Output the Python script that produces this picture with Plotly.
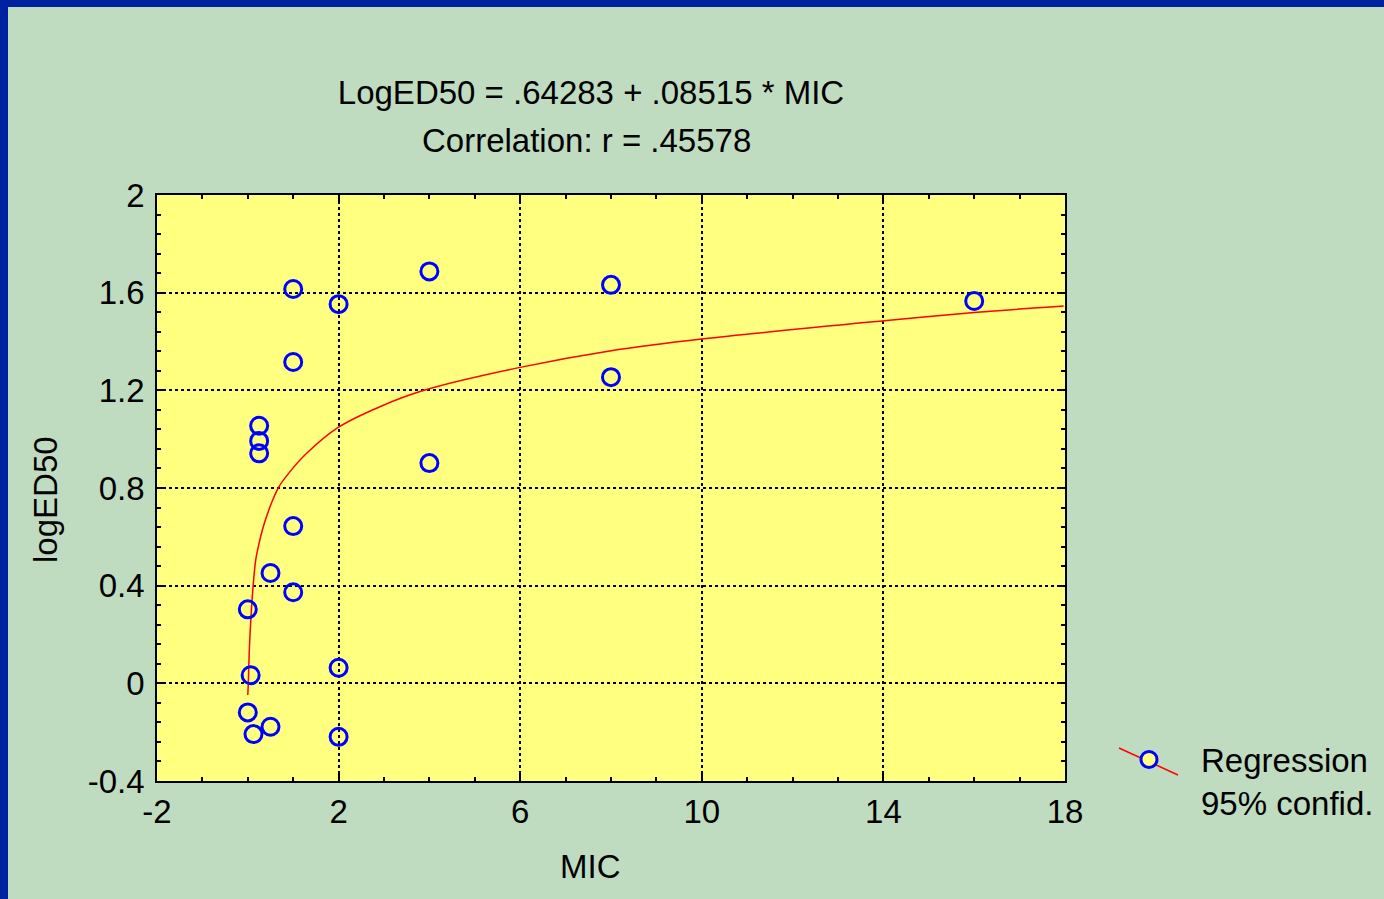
import plotly.graph_objects as go

# ---- data ----
mic = [1, 2, 4, 8, 16, 1, 8, 0.25, 0.25, 0.25, 4, 1, 0.5, 1, 0, 0.0625, 2, 0, 0.125, 0.5, 2]
log_ed50 = [1.615, 1.553, 1.687, 1.632, 1.566, 1.316, 1.254, 1.055, 0.993, 0.942, 0.902,
            0.644, 0.452, 0.373, 0.303, 0.033, 0.064, -0.119, -0.208, -0.178, -0.219]

# regression curve, sampled along the drawn red line
fit_x = [0.0, 0.011, 0.033, 0.07, 0.122, 0.174, 0.231, 0.341, 0.489, 0.672, 0.93, 1.297,
         1.99, 2.91, 3.9, 6.0, 7.97, 10.04, 14.02, 16.06, 17.97]
fit_y = [-0.048, 0.0, 0.136, 0.273, 0.41, 0.505, 0.559, 0.641, 0.723, 0.801, 0.867, 0.942,
         1.048, 1.133, 1.201, 1.294, 1.361, 1.411, 1.485, 1.52, 1.545]

x_ticks = [-2, 2, 6, 10, 14, 18]
x_tick_text = ["-2", "2", "6", "10", "14", "18"]
y_ticks = [-0.4, 0, 0.4, 0.8, 1.2, 1.6, 2]
y_tick_text = ["-0.4", "0", "0.4", "0.8", "1.2", "1.6", "2"]

title_line1 = "LogED50 = .64283 + .08515 * MIC"
title_line2 = "Correlation: r = .45578"
x_title = "MIC"
y_title = "logED50"
legend_name = "Regression<br>95% confid."

# ---- styles ----
GREEN = "#C0DCC0"
YELLOW = "#FFFF80"
BORDER = "#0022A0"
FONT = "Liberation Sans, Arial, sans-serif"
FS = 33
W, H = 1384, 899
L, R, T, B = 157, 319, 195, 118
PW, PH = W - L - R, H - T - B


def px(x):
    return (x - L) / PW


def py(y):
    return (H - B - y) / PH


fig = go.Figure()

fig.add_trace(go.Scatter(
    x=fit_x, y=fit_y, mode="lines",
    line=dict(color="#FF0000", width=1.5, shape="spline", smoothing=0.8),
    showlegend=False, hoverinfo="skip"))

fig.add_trace(go.Scatter(
    x=mic, y=log_ed50, mode="markers",
    marker=dict(symbol="circle-open", size=17, color="#0000FF", line=dict(width=3, color="#0000FF")),
    showlegend=False))

# legend entry (filled marker; the diagonal red stroke is drawn as a shape behind it)
fig.add_trace(go.Scatter(
    x=[None], y=[None], mode="markers", name=legend_name,
    marker=dict(symbol="circle", size=17, color=YELLOW, line=dict(width=3, color="#0000FF"))))

axis_common = dict(
    showgrid=True, gridcolor="black", gridwidth=2, griddash="dot",
    showline=True, linecolor="black", linewidth=1.5, mirror="allticks",
    ticks="inside", ticklen=7, tickwidth=1.5, tickcolor="black",
    zeroline=False, tickfont=dict(family=FONT, size=FS, color="black"),
)

fig.update_xaxes(
    range=[-2, 18], tickmode="array", tickvals=x_ticks, ticktext=x_tick_text,
    minor=dict(tickmode="linear", tick0=-2, dtick=1, ticks="inside", ticklen=4,
               tickcolor="black", showgrid=False),
    ticklabelstandoff=1,
    **axis_common)

fig.update_yaxes(
    range=[-0.4, 2], tickmode="array", tickvals=y_ticks, ticktext=y_tick_text,
    minor=dict(tickmode="linear", tick0=-0.4, dtick=0.08, ticks="inside", ticklen=4,
               tickcolor="black", showgrid=False),
    ticklabelstandoff=4,
    **axis_common)

txt = dict(family=FONT, size=FS, color="black")

fig.update_layout(
    width=W, height=H,
    margin=dict(l=L, r=R, t=T, b=B, autoexpand=False),
    paper_bgcolor=GREEN, plot_bgcolor=YELLOW,
    font=txt,
    title=dict(text=title_line1, x=px(591), xref="paper", xanchor="center",
               y=1 - 92 / H, yref="container", yanchor="middle", font=txt),
    annotations=[
        dict(text=title_line2, x=px(586), y=py(141), xref="paper", yref="paper",
             xanchor="center", yanchor="middle", showarrow=False, font=txt),
        dict(text=x_title, x=px(590), y=py(866), xref="paper", yref="paper",
             xanchor="center", yanchor="middle", showarrow=False, font=txt),
        dict(text=y_title, x=px(45), y=py(500), xref="paper", yref="paper", textangle=-90,
             xanchor="center", yanchor="middle", showarrow=False, font=txt),
    ],
    legend=dict(x=px(1097), y=py(781), xanchor="left", yanchor="middle", valign="top",
                bgcolor="rgba(0,0,0,0)", font=txt, itemwidth=94),
    shapes=[
        dict(type="line", xref="paper", yref="paper", x0=px(1119), y0=py(748),
             x1=px(1178), y1=py(775), line=dict(color="#FF0000", width=1.5), layer="above"),
        dict(type="rect", xref="paper", yref="paper", x0=px(0), x1=px(8),
             y0=py(H), y1=py(0), fillcolor=BORDER, line=dict(width=0), layer="above"),
        dict(type="rect", xref="paper", yref="paper", x0=px(0), x1=px(W),
             y0=py(7), y1=py(0), fillcolor=BORDER, line=dict(width=0), layer="above"),
    ],
)

fig.write_html("out.html", config={"displayModeBar": False},
               post_script="document.body.style.margin='0px';")
